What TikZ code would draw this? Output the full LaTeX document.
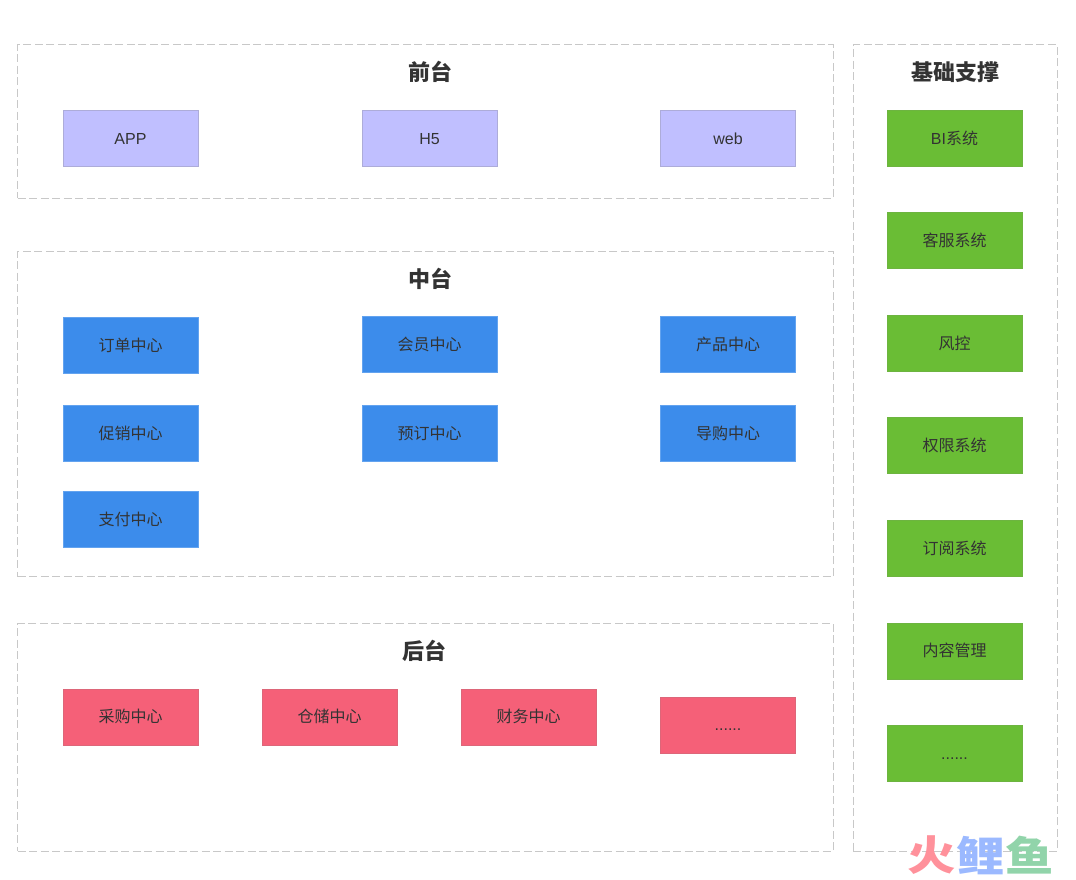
\documentclass[tikz,border=0pt]{standalone}
\usepackage{fontspec}
\usepackage{xcolor}
\setmainfont{Liberation Sans}
\newfontfamily\cjkfont{Noto Sans CJK SC}
\newfontfamily\markfont[FakeStretch=1.18]{Noto Sans CJK SC}
\usetikzlibrary{positioning}
\definecolor{zoneline}{RGB}{200,200,200}
\definecolor{textcolor}{RGB}{51,51,51}
\definecolor{frontcolor}{RGB}{192,191,255}
\definecolor{midcolor}{RGB}{60,140,235}
\definecolor{backcolor}{RGB}{245,96,120}
\definecolor{basecolor}{RGB}{106,189,53}
\definecolor{markred}{RGB}{255,145,155}
\definecolor{markblue}{RGB}{155,185,255}
\definecolor{markgreen}{RGB}{145,212,170}

\begin{document}
\begin{tikzpicture}[
    x=1pt, y=-1pt,
    node distance=32pt,
    zone/.style={rectangle, draw=zoneline, line width=1pt, dash pattern=on 8pt off 3.5pt, anchor=north west, inner sep=0pt, outer sep=0pt},
    zonetitle/.style={text=textcolor, font=\fontsize{22}{24}\selectfont\cjkfont\bfseries, inner sep=0pt},
    cell/.style={rectangle, minimum width=135.2pt, minimum height=56.2pt, inner sep=0pt, outer sep=0pt, text height=12pt, text depth=1pt, text=textcolor, font=\fontsize{16}{18}\selectfont\cjkfont},
    frontbox/.style={cell, fill=frontcolor, draw=frontcolor!70!gray},
    midbox/.style={cell, fill=midcolor, draw=midcolor!80!white},
    backbox/.style={cell, fill=backcolor, draw=backcolor!80!gray},
    basebox/.style={cell, fill=basecolor, draw=basecolor!85!gray},
    latin/.style={font=\fontsize{16}{18}\selectfont\rmfamily},
    markchar/.style={font=\fontsize{41}{44}\selectfont\markfont\bfseries, inner sep=0pt}
]
\useasboundingbox (0,0) rectangle (1076,879);

% Zones
\node[zone, minimum width=815.5pt, minimum height=153.5pt] (qiantai) at (17.5,44.5) {};
\node[zone, minimum width=815.5pt, minimum height=325.5pt] (zhongtai) at (17.5,251) {};
\node[zone, minimum width=815.5pt, minimum height=227.5pt] (houtai) at (17.5,623.5) {};
\node[zone, minimum width=204pt, minimum height=806.5pt] (jichu) at (853,44.5) {};

% Titles
\node[zonetitle] (qiantitle) at (430,72) {前台};
\node[zonetitle] (zhongtitle) at (430,279) {中台};
\node[zonetitle] (houtitle) at (424,651) {后台};
\node[zonetitle] (jichutitle) at (955,72) {基础支撑};

% Front
\node[frontbox, latin] (app) at (130.5,138.5) {APP};
\node[frontbox, latin, right=163.8pt of app] (hfive) {H5};
\node[frontbox, latin, right=163.3pt of hfive] (web) {web};

% Middle
\node[midbox] (dingdan) at (130.5,345.5) {订单中心};
\node[midbox] (huiyuan) at (429.5,344.5) {会员中心};
\node[midbox, right=163.3pt of huiyuan] (chanpin) {产品中心};
\node[midbox] (cuxiao) at (130.5,433.5) {促销中心};
\node[midbox, right=163.8pt of cuxiao] (yuding) {预订中心};
\node[midbox, right=163.3pt of yuding] (daogou) {导购中心};
\node[midbox, below=29.8pt of cuxiao] (zhifu) {支付中心};

% Back
\node[backbox] (caigou) at (130.5,717) {采购中心};
\node[backbox, right=63.8pt of caigou] (cangchu) {仓储中心};
\node[backbox, right=63.8pt of cangchu] (caiwu) {财务中心};
\node[backbox, latin] (backmore) at (728,725) {......};

% Base
\node[basebox, latin] (bi) at (954.5,138.5) {BI{\cjkfont 系统}};
\node[basebox, below=45.8pt of bi] (kefu) {客服系统};
\node[basebox, below=46.8pt of kefu] (fengkong) {风控};
\node[basebox, below=45.8pt of fengkong] (quanxian) {权限系统};
\node[basebox, below=46.8pt of quanxian] (dingyue) {订阅系统};
\node[basebox, below=46.3pt of dingyue] (neirong) {内容管理};
\node[basebox, latin, below=46.3pt of neirong] (basemore) {......};

% Watermark
\node[markchar, text=markred] (huo) at (932,855.5) {火};
\node[markchar, text=markblue, right=0pt of huo] (li) {鲤};
\node[markchar, text=markgreen, right=0pt of li] (yu) {鱼};

\end{tikzpicture}
\end{document}
